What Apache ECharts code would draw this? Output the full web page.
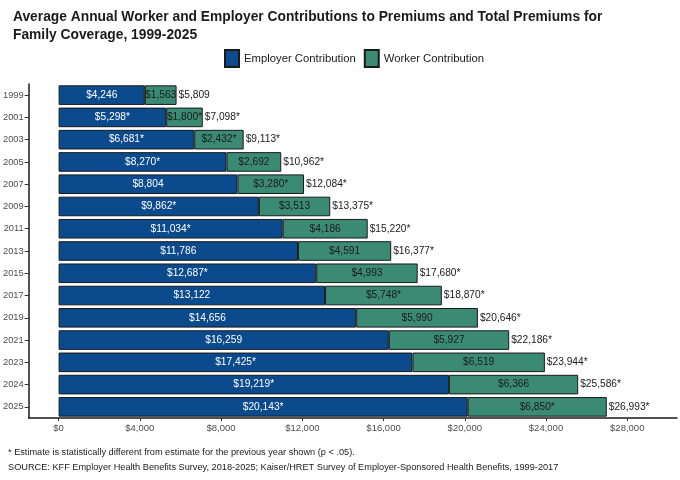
<!DOCTYPE html>
<html>
<head>
<meta charset="utf-8">
<script src="https://cdn.jsdelivr.net/npm/echarts@6/dist/echarts.min.js"></script>
<style>
  html, body { margin: 0; padding: 0; background: #fff; }
  #chart { width: 680px; height: 480px; }
</style>
</head>
<body>
<div id="chart"></div>
<script>
// data
var years = ['1999', '2001', '2003', '2005', '2007', '2009', '2011', '2013', '2015', '2017', '2019', '2021', '2023', '2024', '2025'];
var employer = [4246, 5298, 6681, 8270, 8804, 9862, 11034, 11786, 12687, 13122, 14656, 16259, 17425, 19219, 20143];
var worker = [1563, 1800, 2432, 2692, 3280, 3513, 4186, 4591, 4993, 5748, 5990, 5927, 6519, 6366, 6850];
var totals = [5809, 7098, 9113, 10962, 12084, 13375, 15220, 16377, 17680, 18870, 20646, 22186, 23944, 25586, 26993];
// significance markers (*)
var employerSig = [0, 1, 1, 1, 0, 1, 1, 0, 1, 0, 0, 0, 1, 1, 1];
var workerSig = [0, 1, 1, 0, 1, 0, 0, 0, 0, 1, 0, 0, 0, 0, 1];
var totalSig = [0, 1, 1, 1, 1, 1, 1, 1, 1, 1, 1, 1, 1, 1, 1];
var xTicks = [0, 4000, 8000, 12000, 16000, 20000, 24000, 28000];

function money(v) {
    return '$' + v.toLocaleString('en-US');
}

var font = 'Liberation Sans, Arial, sans-serif';
var myChart = echarts.init(document.getElementById('chart'));

var option = {
    animation: false,
    textStyle: { fontFamily: font },
    title: {
        text: 'Average Annual Worker and Employer Contributions to Premiums and Total Premiums for\nFamily Coverage, 1999-2025',
        left: 8,
        top: 3,
        textStyle: { fontSize: 13.8, fontWeight: 'bold', color: '#1a1a1a', lineHeight: 18 }
    },
    legend: {
        top: 44,
        left: 219,
        icon: 'rect',
        itemWidth: 14,
        itemHeight: 17,
        itemGap: 8,
        textStyle: { fontSize: 11.3, color: '#1a1a1a' },
        data: ['Employer Contribution', 'Worker Contribution']
    },
    grid: { left: 27, right: 3, top: 84, height: 334 },
    xAxis: {
        type: 'value',
        min: -1473,
        max: 30450,
        splitLine: { show: false },
        axisLine: { show: true, lineStyle: { color: '#1a1a1a', width: 1.5 } },
        axisTick: { show: true, customValues: xTicks, length: 3, lineStyle: { color: '#333' } },
        axisLabel: {
            customValues: xTicks,
            fontSize: 9.5,
            color: '#4d4d4d',
            margin: 5,
            formatter: function (v) { return money(v); }
        }
    },
    yAxis: {
        type: 'category',
        inverse: true,
        data: years,
        axisLine: { show: true, onZero: false, lineStyle: { color: '#1a1a1a', width: 1.5 } },
        axisTick: { show: true, length: 4, alignWithLabel: true, lineStyle: { color: '#333' } },
        axisLabel: { fontSize: 9.3, color: '#4d4d4d', margin: 5 }
    },
    series: [
        {
            name: 'Employer Contribution',
            type: 'bar',
            stack: 'prem',
            barWidth: '88%',
            data: employer,
            itemStyle: { color: '#0b4a8c', borderColor: '#1a1a1a', borderWidth: 1 },
            label: {
                show: true,
                position: 'inside',
                color: '#ffffff',
                fontSize: 10.2,
                formatter: function (p) { return money(p.value) + (employerSig[p.dataIndex] ? '*' : ''); }
            }
        },
        {
            name: 'Worker Contribution',
            type: 'bar',
            stack: 'prem',
            data: worker,
            itemStyle: { color: '#3b8a74', borderColor: '#1a1a1a', borderWidth: 1 },
            label: {
                show: true,
                position: 'inside',
                color: '#1a1a1a',
                fontSize: 10.2,
                formatter: function (p) { return money(p.value) + (workerSig[p.dataIndex] ? '*' : ''); }
            }
        },
        {
            name: 'Total',
            type: 'bar',
            stack: 'prem',
            data: totals.map(function () { return 0; }),
            itemStyle: { color: 'rgba(0,0,0,0)', borderWidth: 0 },
            label: {
                show: true,
                position: 'right',
                distance: 2,
                color: '#1a1a1a',
                fontSize: 10.2,
                formatter: function (p) { return money(totals[p.dataIndex]) + (totalSig[p.dataIndex] ? '*' : ''); }
            }
        }
    ],
    graphic: [
        {
            type: 'text', left: 8, top: 448,
            style: { text: '* Estimate is statistically different from estimate for the previous year shown (p < .05).', fontSize: 9.2, fill: '#1a1a1a', fontFamily: font }
        },
        {
            type: 'text', left: 8, top: 463,
            style: { text: 'SOURCE: KFF Employer Health Benefits Survey, 2018-2025; Kaiser/HRET Survey of Employer-Sponsored Health Benefits, 1999-2017', fontSize: 9.2, fill: '#1a1a1a', fontFamily: font }
        }
    ]
};

myChart.setOption(option);
</script>
</body>
</html>
